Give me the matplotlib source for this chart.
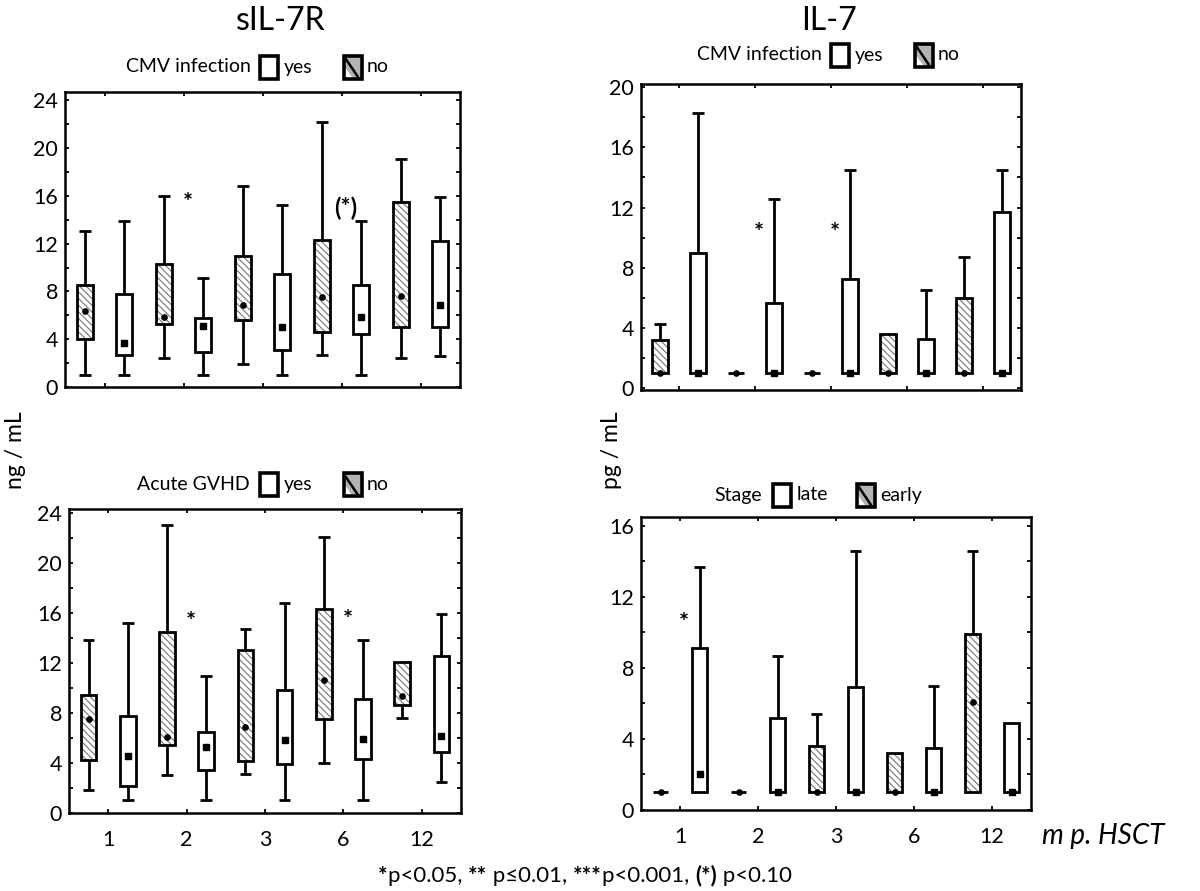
import matplotlib
matplotlib.use("Agg")
import matplotlib.pyplot as plt
from matplotlib.patches import Rectangle, Polygon
from matplotlib.lines import Line2D
from matplotlib.ticker import MultipleLocator

plt.rcParams["font.family"] = ["Lato", "DejaVu Sans"]
plt.rcParams["hatch.linewidth"] = 0.8

W, H = 1200, 891

months = ["1", "2", "3", "6", "12"]

# each row: whisker low, Q1, median, Q3, whisker high (one row per month)
sil7r_cmv_no = [[1.0, 4.0, 6.4, 8.5, 13.1], [2.45, 5.25, 5.85, 10.3, 16.0],
                [1.95, 5.6, 6.9, 11.0, 16.8], [2.7, 4.6, 7.5, 12.3, 22.2],
                [2.45, 5.0, 7.6, 15.5, 19.1]]
sil7r_cmv_yes = [[1.0, 2.7, 3.7, 7.8, 13.9], [1.0, 2.95, 5.1, 5.8, 9.1],
                 [1.0, 3.1, 5.0, 9.5, 15.2], [1.0, 4.45, 5.9, 8.5, 13.9],
                 [2.6, 5.0, 6.9, 12.2, 15.9]]

il7_cmv_no = [[1, 1, 1, 3.25, 4.3], [1, 1, 1, 1, 1], [1, 1, 1, 1, 1],
              [1, 1, 1, 3.6, 3.6], [1, 1, 1, 6.0, 8.7]]
il7_cmv_yes = [[1, 1, 1, 9.0, 18.3], [1, 1, 1, 5.65, 12.6], [1, 1, 1, 7.25, 14.5],
               [1, 1, 1, 3.3, 6.55], [1, 1, 1, 11.7, 14.5]]

sil7r_gvhd_no = [[1.85, 4.25, 7.55, 9.4, 13.8], [3.0, 5.45, 6.1, 14.45, 23.0],
                 [3.15, 4.15, 6.9, 13.0, 14.7], [4.0, 7.5, 10.65, 16.3, 22.1],
                 [7.6, 8.65, 9.35, 12.1, 12.1]]
sil7r_gvhd_yes = [[1.0, 2.15, 4.55, 7.75, 15.15], [1.0, 3.45, 5.25, 6.45, 10.95],
                  [1.0, 3.9, 5.8, 9.85, 16.75], [1.0, 4.3, 5.95, 9.1, 13.8],
                  [2.45, 4.87, 6.15, 12.55, 15.87]]

il7_stage_early = [[1, 1, 1, 1, 1], [1, 1, 1, 1, 1], [1, 1, 1, 3.6, 5.4],
                   [1, 1, 1, 3.2, 3.2], [1, 1, 6.1, 9.9, 14.6]]
il7_stage_late = [[1, 1, 2.05, 9.1, 13.7], [1, 1, 1, 5.2, 8.7], [1, 1, 1, 6.9, 14.6],
                  [1, 1, 1, 3.5, 7.0], [1, 1, 1, 4.9, 4.9]]

# significance marks: (group index, y value, text)
sig_tl = [(1, 15.4, "*"), (3, 15.0, "(*)")]
sig_tr = [(1, 10.3, "*"), (2, 10.3, "*")]
sig_bl = [(1, 15.2, "*"), (3, 15.4, "*")]
sig_br = [(0, 10.5, "*")]

HATCH = "\\\\\\\\\\"
OFF = 0.25
BOX_W = 0.2
CAP = 0.075
LW = 2.0
TICK_FS = 15.5
KEY_FS = 14


def rect(l, r, t, b):
    return [l / W, 1 - b / H, (r - l) / W, (b - t) / H]


def draw_boxes(ax, hatched_stats, plain_stats):
    for i in range(len(months)):
        for pos, stats, hatched in ((i - OFF, hatched_stats[i], True),
                                    (i + OFF, plain_stats[i], False)):
            lo, q1, med, q3, hi = stats
            if q1 > lo:
                ax.vlines(pos, lo, q1, color="black", lw=LW)
                ax.hlines(lo, pos - CAP, pos + CAP, color="black", lw=LW)
            if hi > q3:
                ax.vlines(pos, q3, hi, color="black", lw=LW)
                ax.hlines(hi, pos - CAP, pos + CAP, color="black", lw=LW)
            if hatched:
                ax.bar(pos, q3 - q1, bottom=q1, width=BOX_W, color="white",
                       edgecolor="#777777", hatch=HATCH, lw=0, zorder=2)
            ax.bar(pos, q3 - q1, bottom=q1, width=BOX_W, fill=False,
                   edgecolor="black", lw=LW, zorder=3)
            if hatched:
                ax.plot(pos, med, "o", color="black", ms=3.8, zorder=4)
            else:
                ax.plot(pos, med, "s", color="black", ms=4.5, zorder=4)


def style_axes(ax, ymax, ylim, show_x):
    ax.set_xlim(-0.5, len(months) - 0.5)
    ax.set_ylim(*ylim)
    ax.set_yticks(range(0, ymax + 1, 4))
    ax.yaxis.set_minor_locator(MultipleLocator(2))
    ax.set_xticks(range(len(months)))
    ax.set_xticklabels(months if show_x else [])
    ax.tick_params(which="both", direction="in", top=True, right=True,
                   length=3, width=1.3, labelsize=TICK_FS, colors="black")
    ax.tick_params(axis="y", pad=5)
    ax.tick_params(axis="x", pad=12)
    for sp in ax.spines.values():
        sp.set_linewidth(1.8)


def draw_sig(ax, marks):
    for gi, y, txt in marks:
        ax.text(gi + 0.05, y, txt, ha="center", va="center", fontsize=17,
                fontweight="bold")


def draw_key(fig, label, lab_x, y, first_x, first_lab, second_x, second_lab):
    sw, sh = 18, 23
    fig.text(lab_x / W, 1 - y / H, label, fontsize=KEY_FS, ha="left", va="center")
    # open box swatch
    fig.add_artist(Rectangle((first_x / W, 1 - (y + sh / 2) / H), sw / W, sh / H,
                             transform=fig.transFigure, facecolor="white",
                             edgecolor="black", lw=2.6))
    fig.text((first_x + sw + 6) / W, 1 - y / H, first_lab, fontsize=KEY_FS,
             ha="left", va="center")
    # hatched swatch
    x0, y0 = second_x / W, 1 - (y + sh / 2) / H
    fig.add_artist(Rectangle((x0, y0), sw / W, sh / H, transform=fig.transFigure,
                             facecolor="#b4b4b4", edgecolor="none"))
    fig.add_artist(Polygon([(x0, y0), (x0, y0 + 0.55 * sh / H),
                            (x0 + 0.5 * sw / W, y0)], closed=True,
                           transform=fig.transFigure, facecolor="white",
                           edgecolor="none"))
    fig.add_artist(Line2D([x0 + 0.1 * sw / W, x0 + 0.75 * sw / W],
                          [y0 + 0.85 * sh / H, y0 + 0.1 * sh / H],
                          transform=fig.transFigure, color="black", lw=1.8))
    fig.add_artist(Rectangle((x0, y0), sw / W, sh / H, transform=fig.transFigure,
                             facecolor="none", edgecolor="black", lw=2.6))
    fig.text((second_x + sw + 5) / W, 1 - y / H, second_lab, fontsize=KEY_FS,
             ha="left", va="center")


fig = plt.figure(figsize=(W / 100, H / 100), dpi=100)

ax_tl = fig.add_axes(rect(65, 460, 92, 387))
draw_boxes(ax_tl, sil7r_cmv_no, sil7r_cmv_yes)
style_axes(ax_tl, 24, (0, 24.7), False)
draw_sig(ax_tl, sig_tl)

ax_tr = fig.add_axes(rect(641, 1021, 84, 390))
draw_boxes(ax_tr, il7_cmv_no, il7_cmv_yes)
style_axes(ax_tr, 20, (-0.1, 20.2), False)
draw_sig(ax_tr, sig_tr)

ax_bl = fig.add_axes(rect(69, 461, 509, 813))
draw_boxes(ax_bl, sil7r_gvhd_no, sil7r_gvhd_yes)
style_axes(ax_bl, 24, (0, 24.3), True)
draw_sig(ax_bl, sig_bl)

ax_br = fig.add_axes(rect(641, 1031, 517, 810))
draw_boxes(ax_br, il7_stage_early, il7_stage_late)
style_axes(ax_br, 16, (0, 16.5), True)
draw_sig(ax_br, sig_br)

# panel titles
fig.text(281 / W, 1 - 21 / H, "sIL-7R", fontsize=23, ha="center", va="center")
fig.text(829 / W, 1 - 21 / H, "IL-7", fontsize=23, ha="center", va="center")

# group keys
draw_key(fig, "CMV infection", 126, 67, 260, "yes", 344, "no")
draw_key(fig, "CMV infection", 697, 55, 831, "yes", 915, "no")
draw_key(fig, "Acute GVHD", 137, 485, 260, "yes", 344, "no")
draw_key(fig, "Stage", 714, 495, 773, "late", 857, "early")

# axis labels
fig.text(15 / W, 1 - 450 / H, "ng / mL", rotation=90, fontsize=16.5,
         ha="center", va="center")
fig.text(612 / W, 1 - 450 / H, "pg / mL", rotation=90, fontsize=16.5,
         ha="center", va="center")
fig.text(1042 / W, 1 - 836 / H, "m p. HSCT", fontsize=20, style="italic",
         ha="left", va="center")

# footnote with bold star markers
pieces = [("*", "bold"), ("p<0.05, ", "normal"), ("**", "bold"),
          (" p\u22640.01, ", "normal"), ("***", "bold"), ("p<0.001, ", "normal"),
          ("(*)", "bold"), (" p<0.10", "normal")]
renderer = fig.canvas.get_renderer()
texts = []
for s, wgt in pieces:
    t = fig.text(0, 1 - 876 / H, s, fontsize=16, fontweight=wgt, ha="left",
                 va="center")
    texts.append(t)
widths = [t.get_window_extent(renderer).width for t in texts]
x = 585 - sum(widths) / 2
for t, w in zip(texts, widths):
    t.set_x(x / W)
    x += w

fig.savefig("out.png", dpi=100)
